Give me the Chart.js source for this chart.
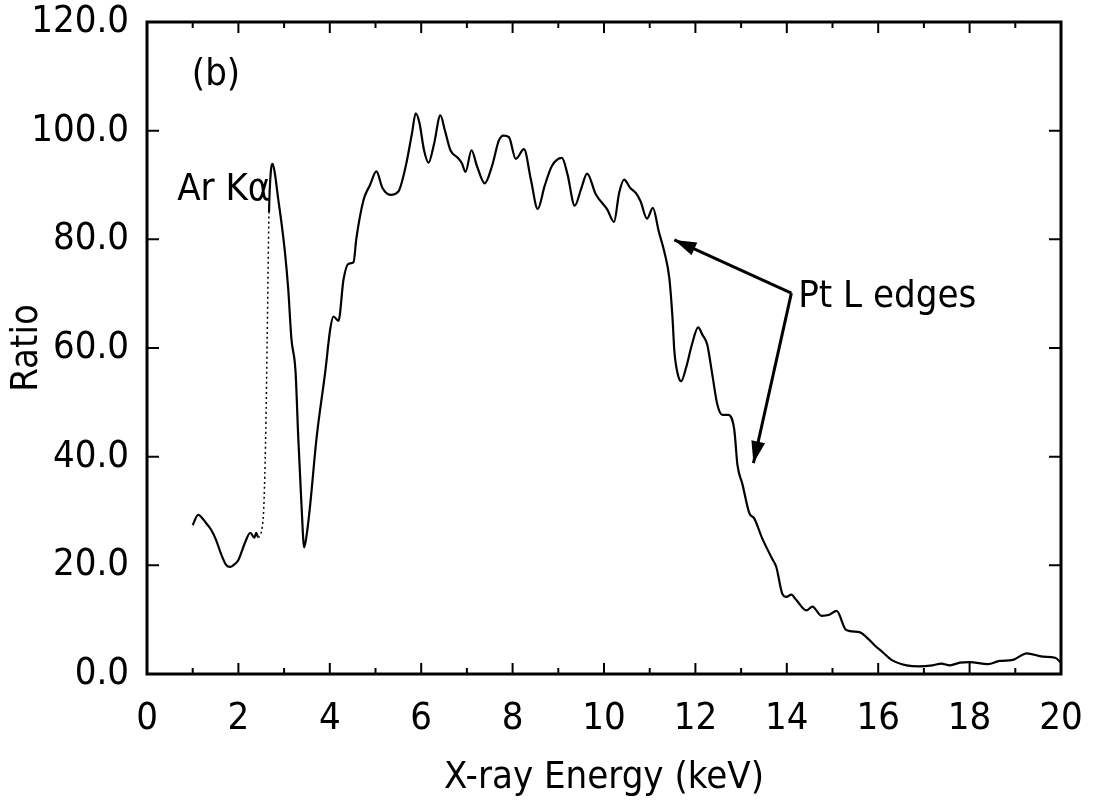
<!DOCTYPE html>
<html>
<head>
<meta charset="utf-8">
<script src="https://cdn.jsdelivr.net/npm/chart.js@4.4.0/dist/chart.umd.min.js"></script>
<style>
    html, body { margin: 0; padding: 0; background: #fff; }
    canvas { display: block; }
</style>
</head>
<body>
<canvas id="ratioChart" width="1096" height="802"></canvas>
<script>
// === DATA ===
const energy = [
    1.00, 1.12, 1.29, 1.40, 1.51, 1.62, 1.73, 1.82, 1.90, 2.00,
    2.15, 2.26, 2.35, 2.39, 2.43, 2.54, 2.60, 2.63, 2.67, 2.71,
    2.75, 2.80, 2.87, 2.94, 3.02, 3.09, 3.16, 3.25, 3.31, 3.38,
    3.44, 3.50, 3.57, 3.71, 3.90, 4.01, 4.08, 4.19, 4.30, 4.41,
    4.52, 4.58, 4.74, 4.88, 5.02, 5.15, 5.33, 5.50, 5.66, 5.80,
    5.88, 5.96, 6.06, 6.16, 6.28, 6.42, 6.52, 6.64, 6.80, 6.89,
    6.97, 7.10, 7.22, 7.39, 7.55, 7.70, 7.80, 7.92, 8.07, 8.25,
    8.40, 8.55, 8.70, 8.86, 9.08, 9.20, 9.36, 9.50, 9.63, 9.82,
    10.07, 10.22, 10.33, 10.44, 10.57, 10.70, 10.80, 10.94, 11.07, 11.20,
    11.32, 11.43, 11.50, 11.54, 11.62, 11.69, 11.80, 11.92, 12.06, 12.15,
    12.26, 12.37, 12.48, 12.59, 12.72, 12.85, 12.92, 13.03, 13.18, 13.29,
    13.46, 13.68, 13.77, 13.90, 13.99, 14.10, 14.20, 14.43, 14.56, 14.76,
    14.93, 15.09, 15.30, 15.59, 15.74, 15.92, 16.10, 16.29, 16.62, 16.90,
    17.19, 17.38, 17.57, 17.79, 18.00, 18.40, 18.66, 18.95, 19.25, 19.60,
    19.87, 20.00
];
const ratio = [
    27.4, 29.3, 27.8, 26.6, 24.7, 22.1, 20.1, 19.7, 20.1, 21.0,
    24.3, 26.0, 25.1, 26.0, 25.2, 28.4, 45.0, 62.0, 85.0, 92.5,
    93.9, 92.0, 87.5, 83.2, 77.5, 70.9, 61.7, 55.7, 43.5, 31.2,
    23.3, 26.0, 31.1, 43.4, 55.6, 63.5, 65.8, 65.0, 72.6, 75.5,
    75.8, 80.1, 87.3, 90.0, 92.5, 89.5, 88.2, 88.8, 93.4, 99.6,
    103.2, 101.5, 96.5, 94.1, 97.5, 102.8, 100.0, 96.4, 95.0, 94.0,
    92.4, 96.4, 93.5, 90.3, 93.5, 98.2, 99.1, 98.8, 94.8, 96.6,
    91.0, 85.6, 89.8, 93.5, 95.0, 92.0, 86.2, 89.3, 92.1, 88.3,
    85.5, 83.2, 88.5, 91.0, 89.5, 88.5, 87.0, 83.8, 85.8, 81.4,
    77.7, 72.8, 65.4, 59.4, 55.0, 53.9, 56.5, 60.5, 63.8, 62.5,
    60.6, 55.1, 49.6, 47.7, 47.7, 45.0, 38.5, 34.9, 29.6, 28.6,
    25.0, 21.2, 19.7, 14.8, 14.2, 14.6, 13.7, 11.7, 12.4, 10.7,
    10.9, 11.6, 8.1, 7.7, 6.8, 5.3, 4.0, 2.6, 1.6, 1.4,
    1.6, 1.9, 1.6, 2.1, 2.2, 1.8, 2.4, 2.6, 3.8, 3.2,
    3.0, 2.1
];
const yTickValues = [0, 20, 40, 60, 80, 100, 120];
const xTickValues = [0, 2, 4, 6, 8, 10, 12, 14, 16, 18, 20];

const FONT = "'Liberation Sans Narrow', 'DejaVu Sans Condensed', 'Liberation Sans', sans-serif";

// === FRAME + INWARD TICKS ===
const frameTicks = {
    id: 'frameTicks',
    afterDraw(chart) {
        const { ctx, chartArea: a, scales: { x, y } } = chart;
        ctx.save();
        ctx.strokeStyle = '#000';
        ctx.lineWidth = 3;
        ctx.strokeRect(a.left, a.top, a.right - a.left, a.bottom - a.top);

        ctx.lineWidth = 2;
        ctx.beginPath();
        for (let v = 0; v <= 20; v++) {
            const px = x.getPixelForValue(v);
            const len = xTickValues.includes(v) ? 11 : 6;
            ctx.moveTo(px, a.bottom); ctx.lineTo(px, a.bottom - len);
            ctx.moveTo(px, a.top); ctx.lineTo(px, a.top + len);
        }
        yTickValues.forEach(v => {
            const py = y.getPixelForValue(v);
            ctx.moveTo(a.left, py); ctx.lineTo(a.left + 12, py);
            ctx.moveTo(a.right, py); ctx.lineTo(a.right - 12, py);
        });
        ctx.stroke();
        ctx.restore();
    }
};

// === LABELS + ARROWS (in data units) ===
const notes = {
    id: 'notes',
    afterDraw(chart) {
        const { ctx, scales: { x, y } } = chart;
        const X = v => x.getPixelForValue(v);
        const Y = v => y.getPixelForValue(v);
        ctx.save();
        ctx.fillStyle = '#000';
        ctx.strokeStyle = '#000';
        ctx.font = '38px ' + FONT;
        ctx.textBaseline = 'alphabetic';
        ctx.fillText('(b)', X(0.98), Y(108.4));
        ctx.fillText('Ar K\u03b1', X(0.66), Y(87.2));
        ctx.fillText('Pt L edges', X(14.25), Y(67.5));

        const jx = X(14.1), jy = Y(70.1);
        const arrow = (tx, ty) => {
            ctx.lineWidth = 3;
            ctx.beginPath();
            ctx.moveTo(jx, jy);
            ctx.lineTo(tx, ty);
            ctx.stroke();
            const ang = Math.atan2(ty - jy, tx - jx);
            const hl = 22, hw = 7;
            ctx.beginPath();
            ctx.moveTo(tx, ty);
            ctx.lineTo(tx - hl * Math.cos(ang) + hw * Math.sin(ang), ty - hl * Math.sin(ang) - hw * Math.cos(ang));
            ctx.lineTo(tx - hl * Math.cos(ang) - hw * Math.sin(ang), ty - hl * Math.sin(ang) + hw * Math.cos(ang));
            ctx.closePath();
            ctx.fill();
        };
        arrow(X(11.54), Y(79.9));
        arrow(X(13.27), Y(38.8));
        ctx.restore();
    }
};

const points = energy.map((e, i) => ({ x: e, y: ratio[i] }));
const isArRise = c => c.p0.parsed.x >= 2.43 && c.p1.parsed.x <= 2.68;

new Chart(document.getElementById('ratioChart'), {
    type: 'line',
    data: {
        datasets: [{
            data: points,
            borderColor: '#000',
            borderWidth: 2.2,
            pointRadius: 0,
            fill: false,
            cubicInterpolationMode: 'monotone',
            segment: {
                // the rising edge of the Ar peak is printed dotted
                borderDash: c => isArRise(c) ? [2, 3] : undefined,
                borderWidth: c => isArRise(c) ? 1.5 : 2.2
            }
        }]
    },
    options: {
        responsive: false,
        animation: false,
        layout: { padding: { top: 22, right: 35, bottom: 0, left: 0 } },
        plugins: {
            legend: { display: false },
            tooltip: { enabled: false }
        },
        scales: {
            x: {
                type: 'linear',
                min: 0,
                max: 20,
                grid: { display: false },
                border: { display: false },
                ticks: {
                    stepSize: 2,
                    padding: 18,
                    color: '#000',
                    maxRotation: 0,
                    font: { family: FONT, size: 38, lineHeight: 1 }
                },
                title: {
                    display: true,
                    text: 'X-ray Energy (keV)',
                    color: '#000',
                    padding: { top: 4, bottom: 1 },
                    font: { family: FONT, size: 38, lineHeight: 1.2 }
                },
                afterFit: s => {
                    s.height = 128;
                    s.paddingLeft = 0;
                    s.paddingRight = 0;
                }
            },
            y: {
                min: 0,
                max: 120,
                grid: { display: false },
                border: { display: false },
                ticks: {
                    stepSize: 20,
                    padding: 10,
                    color: '#000',
                    font: { family: FONT, size: 38, lineHeight: 1 },
                    callback: v => v.toFixed(1)
                },
                title: {
                    display: true,
                    text: 'Ratio',
                    color: '#000',
                    font: { family: FONT, size: 38, lineHeight: 1.2 }
                },
                afterFit: s => {
                    s.width = 147;
                    s.paddingTop = 0;
                    s.paddingBottom = 0;
                }
            }
        }
    },
    plugins: [frameTicks, notes]
});
</script>
</body>
</html>
